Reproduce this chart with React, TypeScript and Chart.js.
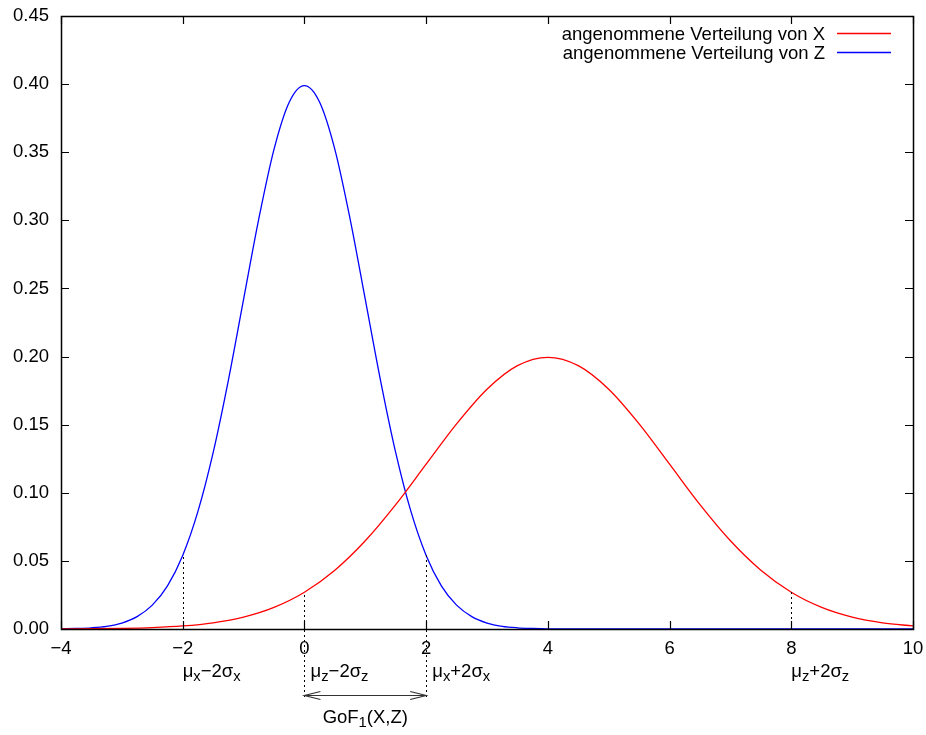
import React, { useEffect, useRef } from 'react';
import { Chart, registerables } from 'chart.js';
Chart.register(...registerables);

// Series values
const blueX = [-4, -3.75, -3.5, -3.25, -3, -2.75, -2.5, -2.25, -2, -1.75, -1.5, -1.25, -1, -0.75, -0.5, -0.25, 0,
  0.25, 0.5, 0.75, 1, 1.25, 1.5, 1.75, 2, 2.25, 2.5, 2.75, 3, 3.25, 3.5, 3.75, 4, 4.5, 5, 6, 8, 10];
const blueY = [0.0001, 0.0004, 0.0009, 0.002, 0.0044, 0.0091, 0.0175, 0.0317, 0.054, 0.0863, 0.1295, 0.1826, 0.242, 0.3011, 0.3521, 0.3867, 0.3989,
  0.3867, 0.3521, 0.3011, 0.242, 0.1826, 0.1295, 0.0863, 0.054, 0.0317, 0.0175, 0.0091, 0.0044, 0.002, 0.0009, 0.0004, 0.0001, 0, 0, 0, 0, 0];
const redX = [-4, -3.5, -3, -2.5, -2, -1.5, -1, -0.5, 0, 0.5, 1, 1.5, 2, 2.5, 3, 3.5, 4,
  4.5, 5, 5.5, 6, 6.5, 7, 7.5, 8, 8.5, 9, 9.5, 10];
const redY = [0.00007, 0.00018, 0.00044, 0.00102, 0.00222, 0.00455, 0.00876, 0.01587, 0.027, 0.04315, 0.06476, 0.09132, 0.121, 0.15057, 0.17603, 0.19333, 0.19947,
  0.19333, 0.17603, 0.15057, 0.121, 0.09132, 0.06476, 0.04315, 0.027, 0.01587, 0.00876, 0.00455, 0.00222];

const xTicks = [-4, -2, 0, 2, 4, 6, 8, 10];
const yTicks = [0, 0.05, 0.1, 0.15, 0.2, 0.25, 0.3, 0.35, 0.4, 0.45];
const seriesLabels = ['angenommene Verteilung von X', 'angenommene Verteilung von Z'];
const seriesColors = ['#ff0000', '#0000ff'];

// Marker lines (x position, height where the dotted line meets the curve)
const markerX = [-2, 0, 2, 8];
const markerY = [0.054, 0.027, 0.054, 0.027];
const markerBelow = [false, true, true, false];
const markerLabelX = [-2, 0.1, 2.1, 8];
const markerLabels: [string, number][][] = [
  [['μ', 0], ['x', 1], ['−2σ', 0], ['x', 1]],
  [['μ', 0], ['z', 1], ['−2σ', 0], ['z', 1]],
  [['μ', 0], ['x', 1], ['+2σ', 0], ['x', 1]],
  [['μ', 0], ['z', 1], ['+2σ', 0], ['z', 1]],
];
const gofRange = [0, 2];
const gofLabel: [string, number][] = [['GoF', 0], ['1', 1], ['(X,Z)', 0]];

const FONT = '"Liberation Sans", Arial, sans-serif';
const FS = 18.5;
const SUB = 14.8;

function richWidth(ctx: CanvasRenderingContext2D, segs: [string, number][]) {
  let w = 0;
  for (const [t, s] of segs) {
    ctx.font = `${s ? SUB : FS}px ${FONT}`;
    w += ctx.measureText(t).width;
  }
  return w;
}
function drawRich(ctx: CanvasRenderingContext2D, segs: [string, number][], x: number, baseline: number) {
  ctx.textAlign = 'left';
  ctx.textBaseline = 'alphabetic';
  ctx.fillStyle = '#000';
  let cx = x;
  for (const [t, s] of segs) {
    ctx.font = `${s ? SUB : FS}px ${FONT}`;
    ctx.fillText(t, cx, baseline + (s ? 4 : 0));
    cx += ctx.measureText(t).width;
  }
}

const decor = {
  id: 'decor',
  afterDraw(chart: any) {
    const ctx: CanvasRenderingContext2D = chart.ctx;
    const xs = chart.scales.x;
    const ys = chart.scales.y;
    const { left, right, top, bottom } = chart.chartArea;
    ctx.save();
    // dotted marker lines
    ctx.strokeStyle = '#000';
    ctx.lineWidth = 1;
    ctx.setLineDash([2, 3]);
    markerX.forEach((mx, i) => {
      const px = Math.round(xs.getPixelForValue(mx)) + 0.5;
      ctx.beginPath();
      ctx.moveTo(px, markerBelow[i] ? 697 : bottom);
      ctx.lineTo(px, ys.getPixelForValue(markerY[i]));
      ctx.stroke();
    });
    ctx.setLineDash([]);
    // frame
    ctx.lineWidth = 1.5;
    ctx.strokeRect(Math.round(left) + 0.5, Math.round(top) + 0.5, Math.round(right - left), Math.round(bottom - top));
    // ticks
    ctx.lineWidth = 1.2;
    ctx.beginPath();
    xTicks.forEach((v) => {
      const px = Math.round(xs.getPixelForValue(v)) + 0.5;
      ctx.moveTo(px, bottom); ctx.lineTo(px, bottom - 8);
      ctx.moveTo(px, top); ctx.lineTo(px, top + 8);
    });
    yTicks.forEach((v) => {
      const py = Math.round(ys.getPixelForValue(v)) + 0.5;
      ctx.moveTo(left, py); ctx.lineTo(left + 8, py);
      ctx.moveTo(right, py); ctx.lineTo(right - 8, py);
    });
    ctx.stroke();
    // marker labels
    markerLabels.forEach((segs, i) => {
      drawRich(ctx, segs, xs.getPixelForValue(markerLabelX[i]), 677);
    });
    // GoF arrow
    const ax0 = xs.getPixelForValue(gofRange[0]);
    const ax1 = xs.getPixelForValue(gofRange[1]);
    const ay = 695.5;
    ctx.strokeStyle = '#333';
    ctx.lineWidth = 1.2;
    ctx.beginPath();
    ctx.moveTo(ax0, ay); ctx.lineTo(ax1, ay);
    ctx.moveTo(ax0 + 16, ay - 4); ctx.lineTo(ax0, ay); ctx.lineTo(ax0 + 16, ay + 4);
    ctx.moveTo(ax1 - 16, ay - 4); ctx.lineTo(ax1, ay); ctx.lineTo(ax1 - 16, ay + 4);
    ctx.stroke();
    const gw = richWidth(ctx, gofLabel);
    drawRich(ctx, gofLabel, (ax0 + ax1) / 2 - gw / 2, 723);
    // legend
    ctx.font = `${FS}px ${FONT}`;
    ctx.textAlign = 'right';
    ctx.textBaseline = 'middle';
    seriesLabels.forEach((lab, i) => {
      const ly = 33.5 + i * 19;
      ctx.fillStyle = '#000';
      ctx.fillText(lab, 825, ly + 1);
      ctx.strokeStyle = seriesColors[i];
      ctx.lineWidth = 1.3;
      ctx.beginPath();
      ctx.moveTo(837, ly); ctx.lineTo(891, ly);
      ctx.stroke();
    });
    ctx.restore();
  },
};

export default function App() {
  const ref = useRef<HTMLCanvasElement>(null);
  useEffect(() => {
    const chart = new Chart(ref.current!, {
      type: 'line',
      data: {
        datasets: [
          {
            label: seriesLabels[0],
            data: redX.map((x, i) => ({ x, y: redY[i] })),
            borderColor: seriesColors[0],
            borderWidth: 1.3,
            pointRadius: 0,
            cubicInterpolationMode: 'monotone',
            fill: false,
          },
          {
            label: seriesLabels[1],
            data: blueX.map((x, i) => ({ x, y: blueY[i] })),
            borderColor: seriesColors[1],
            borderWidth: 1.3,
            pointRadius: 0,
            cubicInterpolationMode: 'monotone',
            fill: false,
          },
        ],
      },
      options: {
        responsive: false,
        animation: false,
        layout: { padding: { top: 16, right: 13, left: 0, bottom: 0 } },
        plugins: { legend: { display: false }, tooltip: { enabled: false } },
        scales: {
          x: {
            type: 'linear',
            min: -4,
            max: 10,
            grid: { display: false, drawTicks: false },
            border: { display: false },
            afterFit: (s: any) => { s.height = 106; s.paddingLeft = 0; s.paddingRight = 0; },
            afterBuildTicks: (s: any) => { s.ticks = xTicks.map((v) => ({ value: v })); },
            ticks: {
              padding: 9,
              color: '#000',
              font: { family: FONT, size: FS },
              maxRotation: 0,
              callback: (v: any) => (v < 0 ? '\u2212' + Math.abs(v) : String(v)),
            },
          },
          y: {
            min: 0,
            max: 0.45,
            grid: { display: false, drawTicks: false },
            border: { display: false },
            afterFit: (s: any) => { s.width = 61; s.paddingTop = 0; s.paddingBottom = 0; },
            afterBuildTicks: (s: any) => { s.ticks = yTicks.map((v) => ({ value: v })); },
            ticks: {
              padding: 12,
              color: '#000',
              font: { family: FONT, size: FS },
              callback: (v: any) => Number(v).toFixed(2),
            },
          },
        },
      },
      plugins: [decor],
    });
    return () => chart.destroy();
  }, []);
  return (
    <div style={{ position: 'fixed', left: 0, top: 0, width: 926, height: 735, background: '#fff' }}>
      <canvas ref={ref} width={926} height={735} style={{ width: 926, height: 735 }} />
    </div>
  );
}
